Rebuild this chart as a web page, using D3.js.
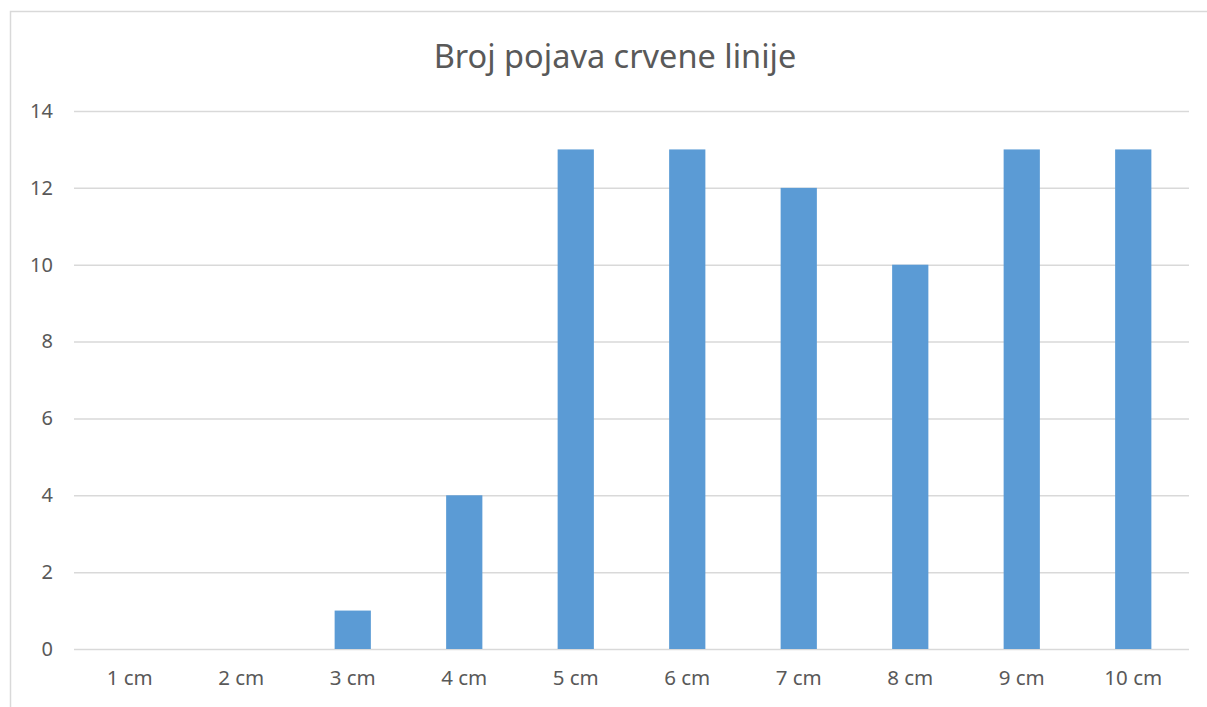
<!DOCTYPE html>
<meta charset="utf-8" />
<title>Broj pojava crvene linije</title>
<script src="https://d3js.org/d3.v7.min.js"></script>
<style>
  body { margin: 0; background: #fff; }
  text { font-family: "Noto Sans", "Liberation Sans", sans-serif; fill: #595959; }
</style>
<div id="chart"></div>
<script>
  // Data
  var categories = ['1 cm', '2 cm', '3 cm', '4 cm', '5 cm', '6 cm', '7 cm', '8 cm', '9 cm', '10 cm'];
  var counts     = [0, 0, 1, 4, 13, 13, 12, 10, 13, 13];
  var yTicks     = [0, 2, 4, 6, 8, 10, 12, 14];
  var title      = 'Broj pojava crvene linije';

  var W = 1207, H = 707;
  var plot = { left: 74, right: 1189, top: 111, bottom: 649 };

  var svg = d3.select('#chart').append('svg')
    .attr('width', W)
    .attr('height', H);

  // chart frame (cropped on the right and bottom, like the screenshot)
  svg.append('path')
    .attr('d', 'M10.5,' + H + ' V11.5 H' + W)
    .attr('fill', 'none')
    .attr('stroke', '#d9d9d9')
    .attr('stroke-width', 1.5);

  var x = d3.scaleBand()
    .domain(categories)
    .range([plot.left, plot.right])
    .paddingInner(0.675)
    .paddingOuter(0.3375);

  var y = d3.scaleLinear()
    .domain([0, 14])
    .range([plot.bottom, plot.top]);

  // gridlines + y labels
  var yAxis = svg.append('g')
    .attr('transform', 'translate(' + plot.left + ',0)')
    .call(d3.axisLeft(y).tickValues(yTicks).tickSize(-(plot.right - plot.left)).tickPadding(21));
  yAxis.select('.domain').remove();
  yAxis.selectAll('line').attr('stroke', '#d9d9d9').attr('stroke-width', 1.5);
  yAxis.selectAll('text')
    .style('font-family', '"Noto Sans", "Liberation Sans", sans-serif')
    .style('font-size', '20px')
    .attr('fill', '#595959');

  // bars
  svg.append('g').selectAll('rect')
    .data(counts)
    .join('rect')
    .attr('x', function(d, i) { return x(categories[i]); })
    .attr('y', function(d) { return y(d); })
    .attr('width', x.bandwidth())
    .attr('height', function(d) { return y(0) - y(d); })
    .attr('fill', '#5b9bd5');

  // x labels
  var xAxis = svg.append('g')
    .attr('transform', 'translate(0,' + plot.bottom + ')')
    .call(d3.axisBottom(x).tickSize(0).tickPadding(21));
  xAxis.select('.domain').remove();
  xAxis.selectAll('text')
    .style('font-family', '"Noto Sans", "Liberation Sans", sans-serif')
    .style('font-size', '20.5px')
    .attr('fill', '#595959');

  // title
  svg.append('text')
    .attr('x', 615)
    .attr('y', 68)
    .attr('text-anchor', 'middle')
    .style('font-size', '32.5px')
    .text(title);
</script>
